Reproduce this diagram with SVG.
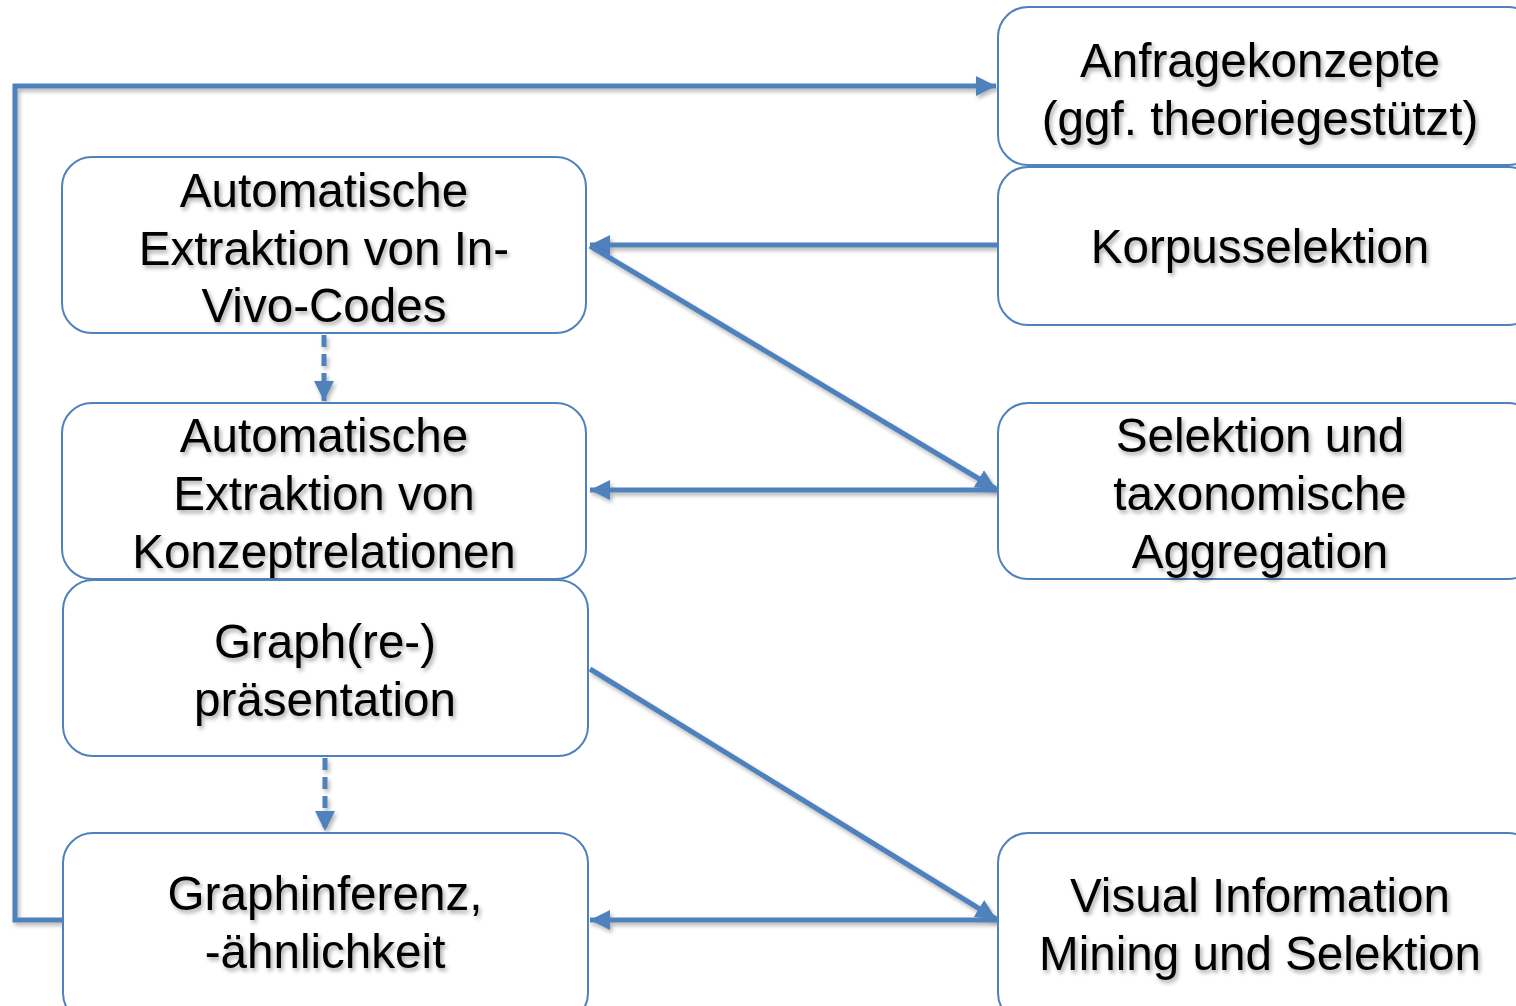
<svg xmlns="http://www.w3.org/2000/svg" width="1516" height="1006" viewBox="0 0 1516 1006">
<style>
.box{fill:#fff;stroke:#4F81BD;stroke-width:2}
.t{font-family:"Liberation Sans",Arial,sans-serif;font-size:47.6px;fill:#000;text-anchor:middle;filter:url(#sh)}
.c{fill:none;stroke:#4F81BD;stroke-width:5;filter:url(#lsh)}
.d{stroke-dasharray:12 7}
</style>
<defs>
<filter id="sh" x="-10%" y="-20%" width="120%" height="150%">
<feGaussianBlur in="SourceAlpha" stdDeviation="2"/>
<feOffset dx="2" dy="3" result="b"/>
<feComponentTransfer in="b" result="s"><feFuncA type="linear" slope="0.35"/></feComponentTransfer>
<feMerge><feMergeNode in="s"/><feMergeNode in="SourceGraphic"/></feMerge>
</filter>
<filter id="lsh" filterUnits="userSpaceOnUse" x="0" y="0" width="1516" height="1006">
<feGaussianBlur in="SourceAlpha" stdDeviation="2"/>
<feOffset dx="2" dy="3" result="b"/>
<feComponentTransfer in="b" result="s"><feFuncA type="linear" slope="0.3"/></feComponentTransfer>
<feMerge><feMergeNode in="s"/><feMergeNode in="SourceGraphic"/></feMerge>
</filter>
<marker id="ah" viewBox="0 0 10 10" refX="10" refY="5" markerWidth="4" markerHeight="4" orient="auto" markerUnits="strokeWidth">
<path d="M0,0 L10,5 L0,10 Z" fill="#4F81BD"/>
</marker>
</defs>

<g id="connectors">
<polyline class="c" points="63,920 15,920 15,86 996,86" marker-end="url(#ah)"/>
<line class="c" x1="998" y1="245" x2="590" y2="245" marker-end="url(#ah)"/>
<line class="c" x1="590" y1="246" x2="996" y2="489" marker-end="url(#ah)"/>
<line class="c" x1="998" y1="490" x2="590" y2="490" marker-end="url(#ah)"/>
<line class="c d" x1="324" y1="335" x2="324" y2="401" marker-end="url(#ah)"/>
<line class="c" x1="590" y1="669" x2="996" y2="919" marker-end="url(#ah)"/>
<line class="c" x1="998" y1="920" x2="590" y2="920" marker-end="url(#ah)"/>
<line class="c d" x1="325" y1="758" x2="325" y2="831" marker-end="url(#ah)"/>
</g>

<g id="n1"><rect class="box" x="62" y="157" width="524" height="176" rx="30"/>
<text class="t" x="324" y="207">Automatische</text><text class="t" x="324" y="265">Extraktion von In-</text><text class="t" x="324" y="322">Vivo-Codes</text></g>

<g id="n2"><rect class="box" x="62" y="403" width="524" height="176" rx="30"/>
<text class="t" x="324" y="452">Automatische</text><text class="t" x="324" y="510">Extraktion von</text><text class="t" x="324" y="568">Konzeptrelationen</text></g>

<g id="n3"><rect class="box" x="63" y="580" width="525" height="176" rx="30"/>
<text class="t" x="325" y="658">Graph(re-)</text><text class="t" x="325" y="716">präsentation</text></g>

<g id="n4"><rect class="box" x="63" y="833" width="525" height="190" rx="30"/>
<text class="t" x="325" y="910">Graphinferenz,</text><text class="t" x="325" y="968">-ähnlichkeit</text></g>

<g id="r1"><rect class="box" x="998" y="7" width="540" height="158" rx="30"/>
<text class="t" x="1260" y="77">Anfragekonzepte</text><text class="t" x="1260" y="135">(ggf. theoriegestützt)</text></g>

<g id="r2"><rect class="box" x="998" y="167" width="540" height="158" rx="30"/>
<text class="t" x="1260" y="263">Korpusselektion</text></g>

<g id="r3"><rect class="box" x="998" y="403" width="540" height="176" rx="30"/>
<text class="t" x="1260" y="452">Selektion und</text><text class="t" x="1260" y="510">taxonomische</text><text class="t" x="1260" y="568">Aggregation</text></g>

<g id="r4"><rect class="box" x="998" y="833" width="540" height="190" rx="30"/>
<text class="t" x="1260" y="912">Visual Information</text><text class="t" x="1260" y="970">Mining und Selektion</text></g>
</svg>
